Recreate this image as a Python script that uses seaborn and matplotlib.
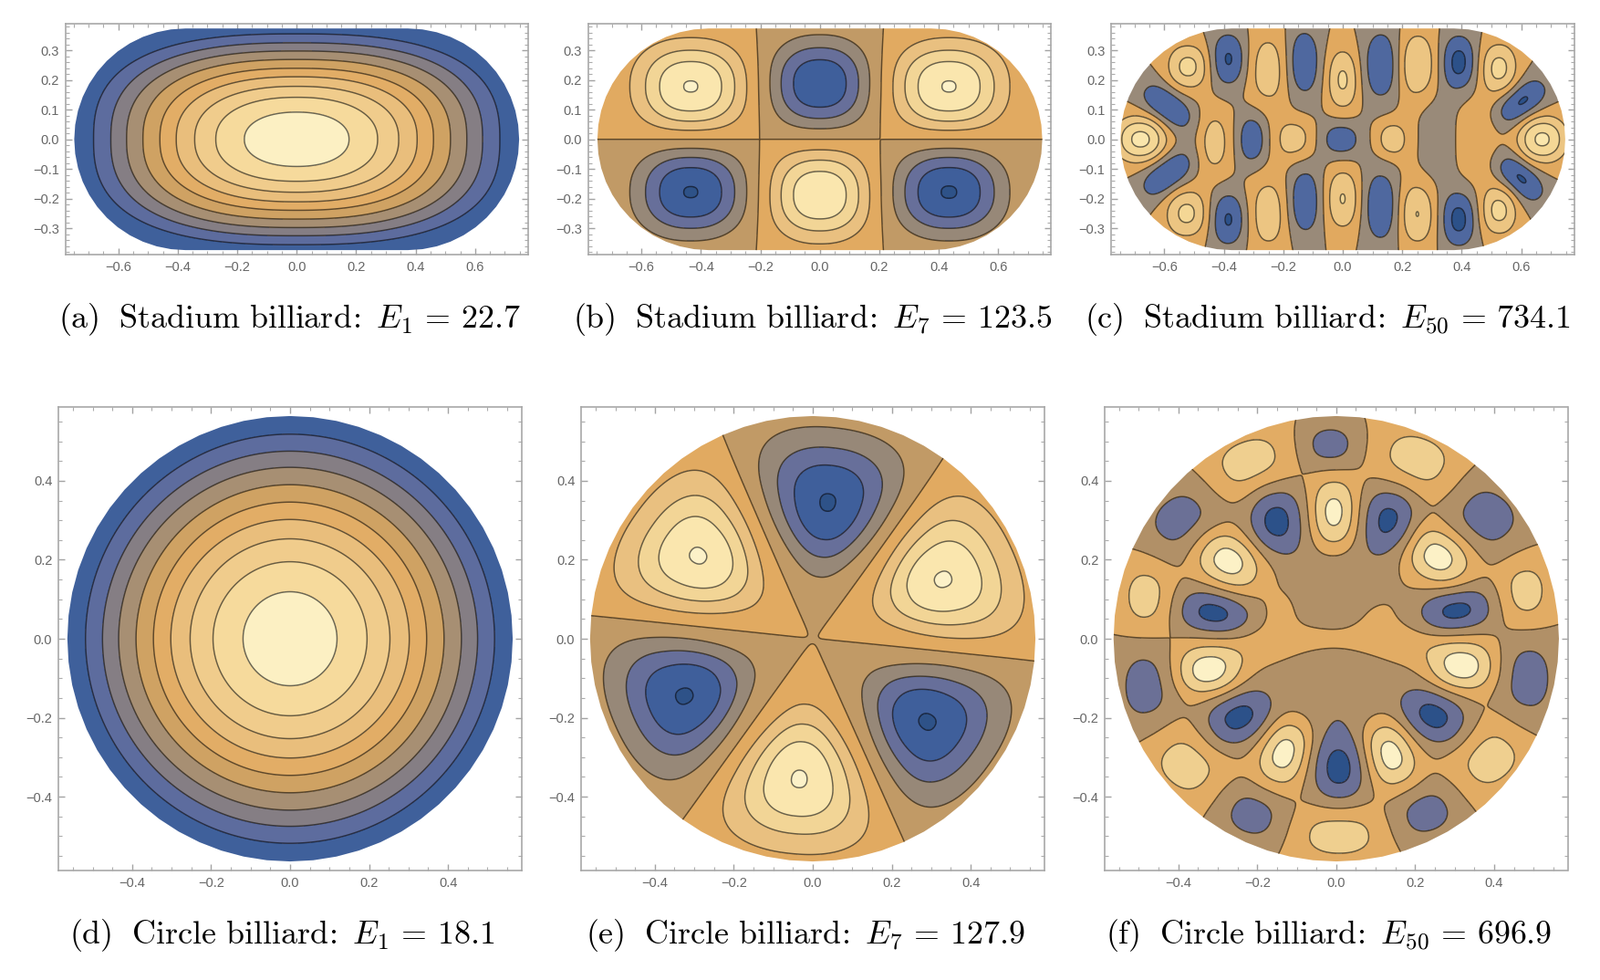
import numpy as np
import matplotlib
matplotlib.use("Agg")
import matplotlib.pyplot as plt
from matplotlib.patches import Polygon
from matplotlib.ticker import MultipleLocator
import seaborn as sns

sns.set_theme(style="white")
plt.rcParams["font.family"] = ["Liberation Sans", "DejaVu Sans"]
plt.rcParams["mathtext.fontset"] = "cm"
plt.rcParams["contour.negative_linestyle"] = "solid"

W, H = 1754, 1074
R_STADIUM = 0.374
R_CIRCLE = 0.564

# contour crossings read along the x axis, panels (a) and (d)
a_crossings = [0.683, 0.625, 0.572, 0.517, 0.46, 0.405, 0.343, 0.272, 0.176]
d_crossings = [0.518, 0.475, 0.434, 0.390, 0.346, 0.302, 0.253, 0.195, 0.119]

# lobes: x, y, peak, half-width x, half-width y, tilt (deg)
b_lobes = [(-0.434, 0.178, 4.04, 0.205, 0.165, 0), (0.0, 0.188, -3.9, 0.185, 0.165, 0),
           (0.434, 0.178, 4.04, 0.205, 0.165, 0), (-0.434, -0.178, -4.04, 0.205, 0.165, 0),
           (0.0, -0.188, 3.9, 0.185, 0.165, 0), (0.434, -0.178, -4.05, 0.205, 0.165, 0)]

c_lobes = [(-0.385, 0.27, -2.12, 0.049, 0.075, 0), (-0.133, 0.26, -1.9, 0.044, 0.09, 0),
           (0.13, 0.25, -1.9, 0.047, 0.094, 0), (0.39, 0.26, -2.3, 0.049, 0.08, 0),
           (0.60, 0.125, -2.2, 0.085, 0.045, 40), (-0.59, 0.11, -2.1, 0.085, 0.045, -40),
           (-0.305, 0.0, -1.8, 0.035, 0.065, 0), (-0.005, 0.0, -1.35, 0.031, 0.028, 0),
           (-0.59, -0.117, -2.1, 0.085, 0.045, 40), (0.595, -0.13, -2.2, 0.085, 0.045, -45),
           (-0.385, -0.27, -2.12, 0.049, 0.075, 0), (-0.13, -0.21, -1.9, 0.043, 0.089, 0),
           (0.128, -0.225, -1.9, 0.045, 0.097, 0), (0.39, -0.27, -2.3, 0.05, 0.08, 0),
           (-0.68, 0.0, 3.3, 0.085, 0.075, 0), (-0.52, 0.245, 2.3, 0.06, 0.064, 0),
           (-0.435, -0.01, 1.6, 0.036, 0.07, 0), (-0.25, 0.235, 1.6, 0.046, 0.084, 0),
           (-0.163, 0.0, 1.6, 0.043, 0.047, 0), (0.0, 0.2, 2.15, 0.044, 0.087, 0),
           (0.165, 0.0, 1.3, 0.022, 0.026, 0), (0.25, 0.25, 2.05, 0.05, 0.09, 0),
           (0.525, 0.24, 2.3, 0.052, 0.072, 0), (0.67, 0.0, 3.2, 0.08, 0.075, 0),
           (-0.525, -0.25, 2.25, 0.06, 0.068, 0), (-0.25, -0.25, 1.6, 0.046, 0.085, 0),
           (0.0, -0.2, 2.05, 0.045, 0.085, 0), (0.25, -0.25, 2.05, 0.048, 0.085, 0),
           (0.525, -0.24, 2.3, 0.052, 0.07, 0),
           (0.46, 0.0, 0.9, 0.05, 0.10, 0), (0.31, 0.0, -0.6, 0.05, 0.12, 0),
           (0.0, 0.0, -0.5, 0.08, 0.07, 0), (0.17, 0.0, 0.6, 0.07, 0.07, 0)]

# panel (e): u runs along the radius, so tilt is the polar angle of the lobe
e_lobes = [(0.038, 0.345, -4.05, 0.19, 0.17, 83.5), (0.33, 0.15, 4.05, 0.19, 0.17, 24.5),
           (0.29, -0.21, -4.05, 0.19, 0.17, -36), (-0.034, -0.355, 4.05, 0.19, 0.17, -95.5),
           (-0.325, -0.145, -4.05, 0.19, 0.17, 204), (-0.29, 0.21, 4.05, 0.19, 0.17, 144)]

f_lobes = [(-0.016, 0.489, -1.5, 0.049, 0.038, 0), (-0.22, 0.445, 1.5, 0.07, 0.05, 20),
           (-0.39, 0.30, -1.5, 0.065, 0.055, 40), (-0.48, 0.105, 1.5, 0.042, 0.058, 0),
           (-0.48, -0.12, -1.5, 0.048, 0.07, 0), (-0.378, -0.316, 1.5, 0.065, 0.055, -40),
           (-0.21, -0.445, -1.5, 0.058, 0.045, -20), (0.007, -0.494, 1.5, 0.078, 0.045, 0),
           (0.225, -0.44, -1.5, 0.058, 0.045, 20), (0.388, -0.30, 1.5, 0.065, 0.055, 40),
           (0.483, -0.10, -1.5, 0.048, 0.073, 0), (0.477, 0.117, 1.5, 0.042, 0.056, 0),
           (0.38, 0.31, -1.5, 0.065, 0.055, -40), (0.205, 0.45, 1.5, 0.07, 0.053, -20),
           (-0.006, 0.312, 2.5, 0.052, 0.083, 0), (0.138, 0.30, -2.3, 0.06, 0.076, 0),
           (0.255, 0.21, 2.5, 0.08, 0.06, -30), (0.305, 0.073, -2.3, 0.082, 0.05, 10),
           (0.32, -0.07, 2.5, 0.076, 0.055, 0), (0.25, -0.197, -2.3, 0.08, 0.058, -30),
           (0.135, -0.29, 2.5, 0.055, 0.08, 20), (0.007, -0.33, -2.3, 0.06, 0.078, 0),
           (-0.13, -0.285, 2.5, 0.055, 0.08, -20), (-0.25, -0.20, -2.3, 0.08, 0.058, 30),
           (-0.325, -0.08, 2.5, 0.076, 0.055, 0), (-0.31, 0.065, -2.3, 0.082, 0.05, -10),
           (-0.275, 0.20, 2.5, 0.08, 0.06, -30), (-0.153, 0.30, -2.3, 0.06, 0.076, 0),
           (0.0, 0.0, 0.7, 0.20, 0.03, 0), (0.0, 0.15, -0.9, 0.085, 0.10, 0),
           (0.0, -0.14, -0.9, 0.11, 0.09, 0),
           (-0.14, 0.06, 0.6, 0.03, 0.04, 0), (0.10, 0.05, 0.5, 0.04, 0.04, 0),
           (-0.2, -0.03, 0.35, 0.08, 0.035, 0), (0.18, -0.03, 0.35, 0.08, 0.035, 0)]

a_colors = ["#3F609B", "#5D6C9E", "#857E84", "#A78F73", "#CFA263", "#E2AD66", "#E9BE7C", "#F0CC8C", "#F6DA9C", "#FCF0C3"]
be_colors = ["#2E5288", "#3F5F9B", "#676F9A", "#978878", "#C19A66", "#E1AA61", "#E9C080", "#F2D596", "#FAE6AE", "#FCF1C8"]
c_colors = ["#2C5189", "#4F689F", "#998A79", "#E1A95F", "#ECC582", "#F4D795", "#FAE6AC"]
f_colors = ["#2C5189", "#6B7096", "#B19067", "#E2AC64", "#EFCF8F", "#FCF1C6"]

captions = [r"$\mathrm{(a)\ \ Stadium\ billiard\!{:}\ }E_1\,=\,22.7$",
            r"$\mathrm{(b)\ \ Stadium\ billiard\!{:}\ }E_7\,=\,123.5$",
            r"$\mathrm{(c)\ \ Stadium\ billiard\!{:}\ }E_{50}\,=\,734.1$",
            r"$\mathrm{(d)\ \ Circle\ billiard\!{:}\ }E_1\,=\,18.1$",
            r"$\mathrm{(e)\ \ Circle\ billiard\!{:}\ }E_7\,=\,127.9$",
            r"$\mathrm{(f)\ \ Circle\ billiard\!{:}\ }E_{50}\,=\,696.9$"]
caption_x = [317.6, 890.4, 1455.8, 309.4, 883.2, 1456.9]
caption_y = [350, 350, 350, 1025, 1025, 1025]
axes_left = [71.6, 645.1, 1218.4, 64.3, 637.3, 1211.2]


def lobes_field(lobes, X, Y, q=2.0, widen=1.0, taper=0.0):
    F = np.zeros_like(X)
    for x0, y0, amp, hx, hy, tilt in lobes:
        strong = abs(amp) > 1
        scale = (2 * np.log(abs(amp))) ** (1 / q) if strong else 1.0
        k = widen if strong else 1.0
        sx, sy = k * hx / scale, k * hy / scale
        t = np.deg2rad(tilt)
        u = (X - x0) * np.cos(t) + (Y - y0) * np.sin(t)
        v = -(X - x0) * np.sin(t) + (Y - y0) * np.cos(t)
        v = v / np.clip(1 + taper * u, 0.12, None)
        F += amp * np.exp(-0.5 * (np.abs(u / sx) ** q + np.abs(v / sy) ** q))
    return F


def field_a(X, Y):
    Ys = 1.92 * np.abs(Y)
    r0 = np.hypot(X, Ys)
    p = 2 + 0.9 * r0
    return -(np.abs(X) ** p + Ys ** p) ** (1 / p)


def stadium_outline():
    t = np.linspace(-np.pi / 2, np.pi / 2, 25)
    right = np.column_stack([R_STADIUM + R_STADIUM * np.cos(t), R_STADIUM * np.sin(t)])
    return np.vstack([right, -right])


def circle_outline():
    t = np.linspace(0, 2 * np.pi, 61)
    return np.column_stack([R_CIRCLE * np.cos(t), R_CIRCLE * np.sin(t)])


fig = plt.figure(figsize=(W / 100, H / 100), dpi=100, facecolor="white")


def panel(i, F, X, Y, levels, colors):
    stadium = i < 3
    top, height = (26, 253.3) if stadium else (446.4, 507.2)
    ax = fig.add_axes([axes_left[i] / W, 1 - (top + height) / H, 507.3 / W, height / H])
    lx, ly = (0.778, 0.39) if stadium else (0.586, 0.586)
    clip = Polygon(stadium_outline() if stadium else circle_outline(), closed=True,
                   transform=ax.transData, facecolor="none", edgecolor="none")
    ax.add_patch(clip)
    cf = ax.contourf(X, Y, F, levels=levels, colors=list(sns.color_palette(colors)), extend="both")
    cl = ax.contour(X, Y, F, levels=levels, colors="black", linewidths=1.05, alpha=0.58)
    cf.set_clip_path(clip)
    cl.set_clip_path(clip)
    ax.set_xlim(-lx, lx)
    ax.set_ylim(-ly, ly)
    ax.xaxis.set_major_locator(MultipleLocator(0.2))
    ax.xaxis.set_minor_locator(MultipleLocator(0.05))
    ax.yaxis.set_major_locator(MultipleLocator(0.1 if stadium else 0.2))
    ax.yaxis.set_minor_locator(MultipleLocator(0.02 if stadium else 0.05))
    ax.tick_params(which="major", direction="in", length=5, width=1, color="#A3A3A3",
                   top=True, right=True, bottom=True, left=True,
                   labelsize=10.5, labelcolor="#666666", pad=5)
    ax.tick_params(which="minor", direction="in", length=3, width=0.8, color="#ABABAB",
                   top=True, right=True, bottom=True, left=True)
    sns.despine(ax=ax, top=False, right=False)
    for s in ax.spines.values():
        s.set_color("#A8A8A8")
        s.set_linewidth(1.2)
    fig.text(caption_x[i] / W, 1 - caption_y[i] / H, captions[i], ha="center", va="center",
             fontsize=25.9, color="black")


xs = np.linspace(-0.78, 0.78, 640)
ys = np.linspace(-0.39, 0.39, 340)
SX, SY = np.meshgrid(xs, ys)
cs = np.linspace(-0.59, 0.59, 560)
CX, CY = np.meshgrid(cs, cs)

int_levels4 = [-4, -3, -2, -1, 0, 1, 2, 3, 4]
panel(0, field_a(SX, SY), SX, SY, [-v for v in a_crossings], a_colors)
panel(1, lobes_field(b_lobes, SX, SY, q=2.3), SX, SY, int_levels4, be_colors)
panel(2, lobes_field(c_lobes, SX, SY, q=2.2, widen=1.1), SX, SY, [-2, -1, 0, 1, 2, 3], c_colors)
panel(3, -np.hypot(CX, CY), CX, CY, [-v for v in d_crossings], a_colors)
panel(4, lobes_field(e_lobes, CX, CY, q=2.2, taper=2.6), CX, CY, int_levels4, be_colors)
panel(5, lobes_field(f_lobes, CX, CY, q=2.2, widen=1.1), CX, CY, [-2, -1, 0, 1, 2], f_colors)

fig.savefig("out.png", dpi=100)
